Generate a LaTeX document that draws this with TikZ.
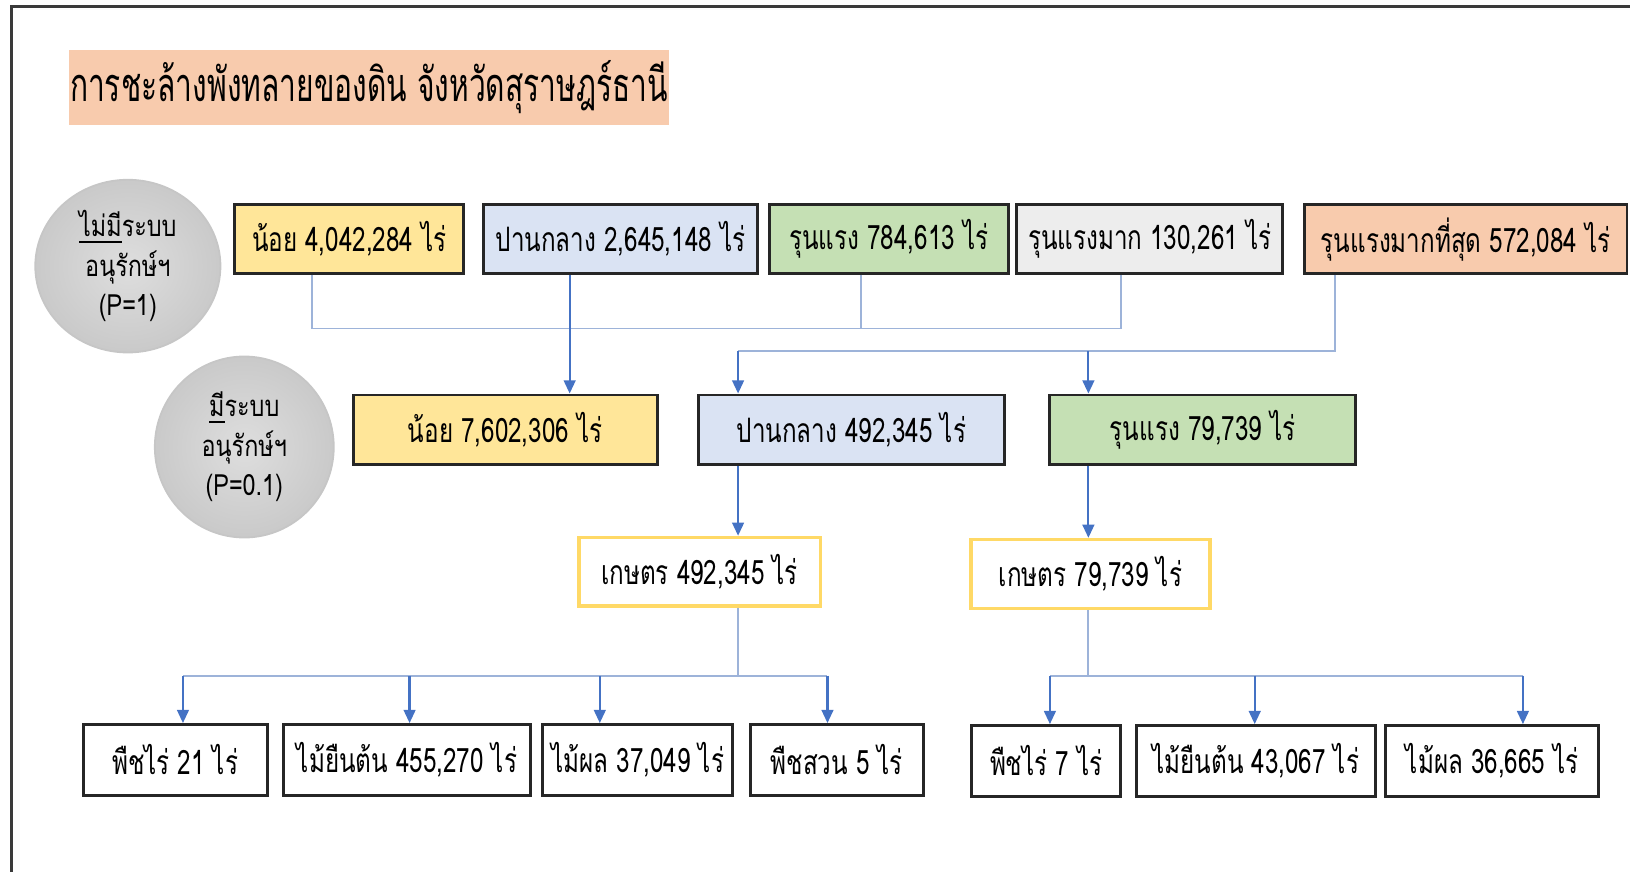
\documentclass[tikz,border=0pt]{standalone}
\usepackage{fontspec}
\newfontfamily\thai[Script=Thai,FakeStretch=0.72]{Loma}
\newfontfamily\thaititle[Script=Thai,FakeStretch=0.64]{Loma}
\newfontfamily\thaicirc[Script=Thai,FakeStretch=0.8]{Loma}
\usetikzlibrary{arrows.meta,shapes.geometric}
\definecolor{peach}{HTML}{F8CBAD}
\definecolor{yel}{HTML}{FFE699}
\definecolor{lblue}{HTML}{DAE3F3}
\definecolor{lgreen}{HTML}{C5E0B4}
\definecolor{lgray}{HTML}{EDEDED}
\definecolor{gold}{HTML}{FFD966}
\definecolor{lite}{HTML}{9DB3D9}
\definecolor{arrblue}{HTML}{4472C4}
\definecolor{framec}{HTML}{3A3A3A}
\definecolor{boxline}{HTML}{262626}
\begin{document}
\begin{tikzpicture}[x=0.01cm,y=-0.01cm,
  box/.style={draw=boxline,line width=0.8pt,inner sep=0pt,minimum height=0.66cm,font=\thai\fontsize{9.2}{10}\selectfont},
  kbox/.style={draw=gold,line width=0.9pt,fill=white,inner sep=0pt,minimum height=0.66cm,font=\thai\fontsize{9.2}{10}\selectfont},
  circ/.style={ellipse,draw=gray!45,line width=0.5pt,inner color=gray!26,outer color=gray!42,inner sep=0pt,align=center,font=\thaicirc\fontsize{8}{10.8}\selectfont},
  liteline/.style={draw=lite,line width=0.5pt},
  arr/.style={draw=arrblue,line width=0.6pt,-{Triangle[width=3.2pt,length=3.6pt]}},
]
\useasboundingbox (0,0) rectangle (1568,839);
% frame (top and left edges only)
\draw[framec,line width=0.7pt] (1568,6.5) -- (11,6.5) -- (11,839);

% title
\node[fill=peach,minimum width=5.76cm,minimum height=0.72cm,inner sep=0pt,font=\thaititle\fontsize{12.8}{14}\selectfont] (title) at (355,84) {การชะล้างพังทลายของดิน จังหวัดสุราษฎร์ธานี};

% circles
\node[circ,minimum width=1.78cm,minimum height=1.66cm] (c1) at (123,256) {\underline{ไม่มี}ระบบ\\อนุรักษ์ฯ\\(P=1)};
\node[circ,minimum width=1.72cm,minimum height=1.74cm] (c2) at (235,430) {\underline{มี}ระบบ\\อนุรักษ์ฯ\\(P=0.1)};

% top row
\node[box,fill=yel,minimum width=2.20cm] (n1) at (336,230) {น้อย 4,042,284 ไร่};
\node[box,fill=lblue,minimum width=2.64cm] (n2) at (597,230) {ปานกลาง 2,645,148 ไร่};
\node[box,fill=lgreen,minimum width=2.30cm] (n3) at (855,230) {รุนแรง 784,613 ไร่};
\node[box,fill=lgray,minimum width=2.56cm] (n4) at (1106,230) {รุนแรงมาก 130,261 ไร่};
\node[box,fill=peach,minimum width=3.10cm] (n5) at (1410,230) {รุนแรงมากที่สุด 572,084 ไร่};

% second row
\node[box,fill=yel,minimum width=2.92cm,minimum height=0.67cm] (m1) at (486,413.5) {น้อย 7,602,306 ไร่};
\node[box,fill=lblue,minimum width=2.94cm,minimum height=0.67cm] (m2) at (819,413.5) {ปานกลาง 492,345 ไร่};
\node[box,fill=lgreen,minimum width=2.94cm,minimum height=0.67cm] (m3) at (1157,413.5) {รุนแรง 79,739 ไร่};

% kaset
\node[kbox,minimum width=2.32cm] (k1) at (673,550) {เกษตร 492,345 ไร่};
\node[kbox,minimum width=2.30cm] (k2) at (1049,552) {เกษตร 79,739 ไร่};

% bottom rows
\node[box,fill=white,minimum width=1.77cm,minimum height=0.68cm] (b1) at (168.5,731) {พืชไร่ 21 ไร่};
\node[box,fill=white,minimum width=2.37cm,minimum height=0.68cm] (b2) at (391.5,731) {ไม้ยืนต้น 455,270 ไร่};
\node[box,fill=white,minimum width=1.83cm,minimum height=0.68cm] (b3) at (613.5,731) {ไม้ผล 37,049 ไร่};
\node[box,fill=white,minimum width=1.66cm,minimum height=0.68cm] (b4) at (805,731) {พืชสวน 5 ไร่};
\node[box,fill=white,minimum width=1.43cm,minimum height=0.68cm] (d1) at (1006.5,732) {พืชไร่ 7 ไร่};
\node[box,fill=white,minimum width=2.30cm,minimum height=0.68cm] (d2) at (1208,732) {ไม้ยืนต้น 43,067 ไร่};
\node[box,fill=white,minimum width=2.05cm,minimum height=0.68cm] (d3) at (1435.5,732) {ไม้ผล 36,665 ไร่};

% junction coordinates
\coordinate (hA) at (300,316);
\coordinate (hB) at (828,316);
\coordinate (hC) at (1078,316);
\coordinate (vP) at (548,316);
\coordinate (hD) at (1284,338);
\coordinate (hE) at (710,338);
\coordinate (hF) at (1047,338);
\coordinate (kA) at (710,650);
\coordinate (kL) at (176,650);
\coordinate (kM1) at (394,650);
\coordinate (kM2) at (577,650);
\coordinate (kR) at (796,650);
\coordinate (gA) at (1047,650);
\coordinate (gL) at (1010,650);
\coordinate (gM) at (1207,650);
\coordinate (gR) at (1465,650);

% top merge (no arrow)
\draw[liteline] (n1.south -| hA) -- (hA) -- (hC) -- (n4.south -| hC);
\draw[liteline] (n3.south -| hB) -- (hB);
\draw[arr] (n2.south -| vP) -- (m1.north -| vP);

% from most severe
\draw[liteline] (n5.south -| hD) -- (hD) -- (hE);
\draw[arr] (hE) -- (m2.north -| hE);
\draw[arr] (hF) -- (m3.north -| hF);

% down to kaset
\draw[arr] (m2.south -| hE) -- (k1.north -| hE);
\draw[arr] (m3.south -| hF) -- (k2.north -| hF);

% kaset 1 branches
\draw[liteline] (k1.south -| kA) -- (kA);
\draw[liteline] (kL) -- (kR);
\draw[arr] (kL) -- (b1.north -| kL);
\draw[arr] (kM1) -- (b2.north -| kM1);
\draw[arr] (kM2) -- (b3.north -| kM2);
\draw[arr] (kR) -- (b4.north -| kR);

% kaset 2 branches
\draw[liteline] (k2.south -| gA) -- (gA);
\draw[liteline] (gL) -- (gR);
\draw[arr] (gL) -- (d1.north -| gL);
\draw[arr] (gM) -- (d2.north -| gM);
\draw[arr] (gR) -- (d3.north -| gR);
\end{tikzpicture}
\end{document}
